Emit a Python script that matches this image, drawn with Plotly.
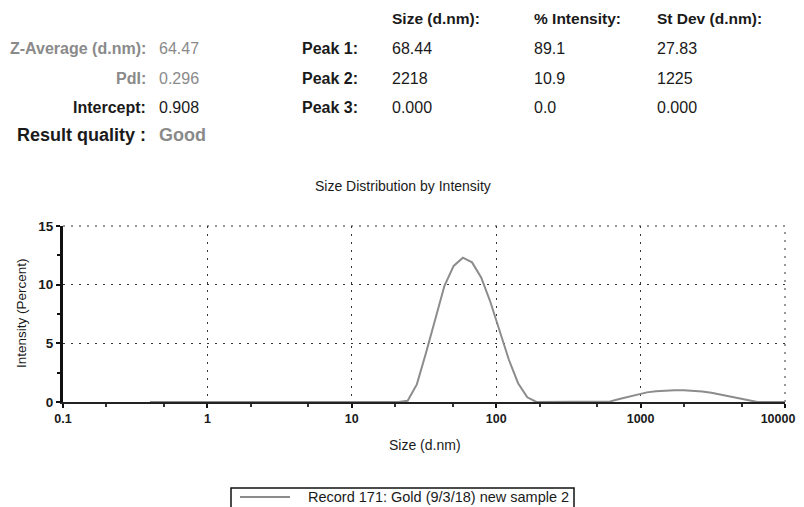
import plotly.graph_objects as go

# ---- data ----
sizes = [0.4, 0.4632, 0.5365, 0.6213, 0.7195, 0.8332, 0.9649, 1.117, 1.294, 1.499,
         1.736, 2.01, 2.328, 2.696, 3.122, 3.615, 4.187, 4.849, 5.615, 6.503,
         7.531, 8.721, 10.1, 11.7, 13.54, 15.69, 18.17, 21.04, 24.36, 28.21,
         32.67, 37.84, 43.82, 50.75, 58.77, 68.06, 78.82, 91.28, 105.7, 122.4,
         141.8, 164.2, 190.1, 220.2, 255.0, 295.3, 342.0, 396.1, 458.7, 531.2,
         615.1, 712.4, 825.0, 955.4, 1106, 1281, 1484, 1718, 1990, 2305,
         2669, 3091, 3580, 4145, 4801, 5560, 6439, 7456, 8635, 10000]
intensity = [0] * 27 + [0.0, 0.1, 1.5, 4.2, 7.1, 9.9, 11.6, 12.3, 11.9, 10.6, 8.5,
                        6.0, 3.6, 1.6, 0.4, 0.0, 0.0, 0.0, 0.0, 0.0, 0.0, 0.0, 0.0,
                        0.05, 0.25, 0.45, 0.68, 0.82, 0.92, 0.98, 1.0, 1.0, 0.97,
                        0.9, 0.78, 0.62, 0.45, 0.28, 0.1, 0.0, 0.0, 0.0, 0.0]
x_tick_vals = [0.1, 1, 10, 100, 1000, 10000]
x_tick_text = ["0.1", "1", "10", "100", "1000", "10000\u00a0\u00a0\u00a0\u00a0"]
y_tick_vals = [0, 5, 10, 15]
series_name = "Record 171: Gold (9/3/18) new sample 2"

summary_labels = ["Z-Average (d.nm):", "PdI:", "Intercept:", "Result quality :"]
summary_values = ["64.47", "0.296", "0.908", "Good"]
summary_gray = [True, True, False, False]
peak_headers = ["Size (d.nm):", "% Intensity:", "St Dev (d.nm):"]
peak_labels = ["Peak 1:", "Peak 2:", "Peak 3:"]
peak_size = ["68.44", "2218", "0.000"]
peak_int = ["89.1", "10.9", "0.0"]
peak_sd = ["27.83", "1225", "0.000"]

# ---- layout geometry (page pixels; the figure sits 8px in from page corner) ----
OFF = 8
W, H = 796, 499
PLOT_L, PLOT_R, PLOT_T, PLOT_B = 63, 785, 226, 402   # page coords of plot area
L = PLOT_L - OFF
T = PLOT_T - OFF
R = W - (PLOT_R - OFF)
B = H - (PLOT_B - OFF)
PW, PH = PLOT_R - PLOT_L, PLOT_B - PLOT_T


def px(x):
    return (x - PLOT_L) / PW


def py(y):
    return (PLOT_B - y) / PH


FONT = "Liberation Sans, Arial, sans-serif"
DARK = "#1a1a1a"
GRAY = "#8a8a8a"

fig = go.Figure()
fig.add_trace(go.Scatter(x=sizes, y=intensity, mode="lines",
                         line=dict(color="#8c8c8c", width=2),
                         name=series_name, showlegend=False))

ann = []
row_y = [48, 78, 107, 135]
label_sizes = [16, 16, 16, 18]
for lab, val, g, yy, fs in zip(summary_labels, summary_values, summary_gray, row_y,
                               label_sizes):
    big = lab.startswith("Result")
    ann.append(dict(x=px(148), y=py(yy), text="<b>%s</b>" % lab, xanchor="right",
                    yanchor="middle", font=dict(size=fs, color=GRAY if g else DARK)))
    ann.append(dict(x=px(157), y=py(yy), text="<b>%s</b>" % val if big else val,
                    xanchor="left", yanchor="middle",
                    font=dict(size=fs if big else 16,
                              color=GRAY if (g or big) else DARK)))
col_x = [390, 532, 655]
for hx, ht in zip(col_x, peak_headers):
    ann.append(dict(x=px(hx), y=py(18), text="<b>%s</b>" % ht, xanchor="left",
                    yanchor="middle", font=dict(size=15.5, color=DARK)))
for i, lab in enumerate(peak_labels):
    yy = row_y[i]
    ann.append(dict(x=px(300), y=py(yy), text="<b>%s</b>" % lab, xanchor="left",
                    yanchor="middle", font=dict(size=16, color=DARK)))
    for hx, v in zip(col_x, [peak_size[i], peak_int[i], peak_sd[i]]):
        ann.append(dict(x=px(hx), y=py(yy), text=v, xanchor="left",
                        yanchor="middle", font=dict(size=16, color=DARK)))

ann.append(dict(x=px(403), y=py(186), text="Size Distribution by Intensity",
                xanchor="center", yanchor="middle", font=dict(size=14, color=DARK)))
ann.append(dict(x=px(425), y=py(445), text="Size (d.nm)", xanchor="center",
                yanchor="middle", font=dict(size=14, color=DARK)))
ann.append(dict(x=px(21), y=py(313), text="Intensity (Percent)", textangle=-90,
                xanchor="center", yanchor="middle", font=dict(size=13.5, color=DARK)))
ann.append(dict(x=px(306), y=py(497), text=series_name, xanchor="left",
                yanchor="middle", font=dict(size=14.5, color=DARK)))
for a in ann:
    a.update(xref="paper", yref="paper", showarrow=False)

DOT = "2px,6px"
shapes = [
    dict(type="rect", xref="paper", yref="paper", x0=px(231), x1=px(574),
         y0=py(488), y1=py(530), line=dict(color="#111", width=1.5),
         fillcolor="white"),
    dict(type="line", xref="paper", yref="paper", x0=px(240), x1=px(290),
         y0=py(497), y1=py(497), line=dict(color="#8c8c8c", width=2)),
    dict(type="line", xref="paper", yref="paper", x0=0, x1=1, y0=1, y1=1,
         line=dict(color="#333", width=1, dash=DOT), layer="below"),
    dict(type="line", xref="paper", yref="paper", x0=1, x1=1, y0=0, y1=1,
         line=dict(color="#333", width=1, dash=DOT), layer="below"),
]

grid = dict(showgrid=True, gridcolor="#333", gridwidth=1, griddash=DOT)
fig.update_layout(
    width=W, height=H,
    margin=dict(l=L, r=R, t=T, b=B, autoexpand=False),
    paper_bgcolor="white", plot_bgcolor="white",
    font=dict(family=FONT, color=DARK),
    annotations=ann, shapes=shapes, showlegend=False,
    xaxis=dict(type="log", range=[-1, 4], tickvals=x_tick_vals, ticktext=x_tick_text,
               showline=True, linecolor="#222", linewidth=2, zeroline=False,
               ticks="outside", ticklen=4, tickcolor="#111", tickwidth=1.5,
               ticklabeloverflow="allow",
               tickfont=dict(size=12.5, color=DARK, weight="bold"),
               minor=dict(ticks="outside", ticklen=3, tickcolor="#333", showgrid=False),
               **grid),
    yaxis=dict(range=[0, 15], tickvals=y_tick_vals, showline=True, linecolor="#111",
               linewidth=3, zeroline=False, ticks="outside", ticklen=4,
               tickcolor="#111", tickwidth=1.5,
               tickfont=dict(size=13.5, color=DARK, weight="bold"),
               minor=dict(dtick=2.5, ticks="outside", ticklen=3, tickcolor="#111",
                          showgrid=False),
               **grid),
)

fig.write_html("out.html")
